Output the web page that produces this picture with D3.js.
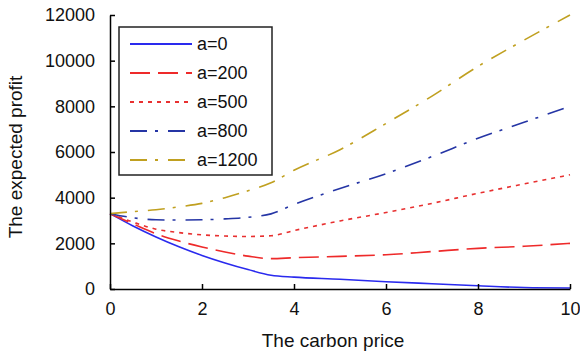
<!DOCTYPE html>
<html>
<head>
<meta charset="utf-8">
<script src="https://cdn.jsdelivr.net/npm/d3@7/dist/d3.min.js"></script>
<style>
  body { margin: 0; background: #fff; }
  svg { font-family: "Liberation Sans", Arial, sans-serif; }
  .axis path, .axis line { stroke: #000; stroke-width: 1.5; }
  .axis text { font-size: 18px; fill: #111; }
</style>
</head>
<body>
<div class="graph"></div>
<script>
// carbon price on x, expected profit for each a on y
var carbonPrice = [0, 0.5, 1, 1.5, 2, 2.5, 3, 3.5, 4, 5, 6, 7, 8, 9, 10];
var profitA0    = [3300, 2760, 2280, 1850, 1470, 1140, 850, 600, 520, 430, 320, 230, 140, 65, 45];
var profitA200  = [3300, 2850, 2420, 2100, 1840, 1620, 1440, 1330, 1370, 1430, 1500, 1640, 1780, 1870, 2000];
var profitA500  = [3300, 2930, 2620, 2470, 2370, 2320, 2300, 2330, 2560, 2980, 3350, 3750, 4190, 4600, 5000];
var profitA800  = [3300, 3120, 3030, 3020, 3030, 3070, 3140, 3290, 3700, 4400, 5050, 5800, 6600, 7300, 8000];
var profitA1200 = [3300, 3390, 3470, 3600, 3750, 4000, 4300, 4650, 5200, 6100, 7250, 8450, 9750, 10900, 12000];

var seriesNames = ['a=0', 'a=200', 'a=500', 'a=800', 'a=1200'];
var xTicks = [0, 2, 4, 6, 8, 10];
var yTicks = [0, 2000, 4000, 6000, 8000, 10000, 12000];

var series = [
  {name: seriesNames[0], values: profitA0,    color: '#2a2aee', dash: null},
  {name: seriesNames[1], values: profitA200,  color: '#ee2a2a', dash: '20,8'},
  {name: seriesNames[2], values: profitA500,  color: '#e83030', dash: '4,5'},
  {name: seriesNames[3], values: profitA800,  color: '#2535a5', dash: '17,8,3,10'},
  {name: seriesNames[4], values: profitA1200, color: '#c0a020', dash: '17,8,3,10'}
];

var margin = {top: 15, right: 10, bottom: 69, left: 110},
    width = 580 - margin.left - margin.right,
    height = 358 - margin.top - margin.bottom;

var x = d3.scaleLinear().domain([0, 10]).range([0, width]);
var y = d3.scaleLinear().domain([0, 12000]).range([height, 0]);

var svg = d3.select(".graph").append("svg")
    .attr("width", 580)
    .attr("height", 358)
  .append("g")
    .attr("transform", "translate(" + margin.left + "," + margin.top + ")");

var line = d3.line()
    .x(function(d) { return x(d[0]); })
    .y(function(d) { return y(d[1]); })
    .curve(d3.curveMonotoneX);

svg.selectAll(".series")
    .data(series)
  .enter().append("path")
    .attr("class", "series")
    .attr("fill", "none")
    .attr("stroke", function(d) { return d.color; })
    .attr("stroke-width", 1.6)
    .attr("stroke-dasharray", function(d) { return d.dash; })
    .attr("d", function(d) {
      return line(carbonPrice.map(function(p, i) { return [p, d.values[i]]; }));
    });

svg.append("g")
    .attr("class", "x axis")
    .attr("transform", "translate(0," + height + ")")
    .call(d3.axisBottom(x).tickValues(xTicks).tickFormat(d3.format("d"))
      .tickSizeInner(-5).tickSizeOuter(0).tickPadding(13));

svg.append("g")
    .attr("class", "y axis")
    .call(d3.axisLeft(y).tickValues(yTicks).tickFormat(d3.format("d"))
      .tickSizeInner(-5).tickSizeOuter(0).tickPadding(15));

// axis titles
svg.append("text")
    .attr("x", x(5) - 7)
    .attr("y", height + 58)
    .attr("text-anchor", "middle")
    .style("font-size", "19px")
    .attr("fill", "#111")
    .text("The carbon price");

svg.append("text")
    .attr("transform", "translate(" + (-88) + "," + (y(6000) + 5) + ") rotate(-90)")
    .attr("text-anchor", "middle")
    .style("font-size", "19px")
    .attr("fill", "#111")
    .text("The expected profit");

// legend
var legend = svg.append("g")
    .attr("transform", "translate(" + (119 - margin.left) + "," + (27 - margin.top) + ")");

legend.append("rect")
    .attr("width", 153)
    .attr("height", 148)
    .attr("fill", "#fff")
    .attr("stroke", "#222")
    .attr("stroke-width", 1.5);

var item = legend.selectAll(".legend-item")
    .data(series)
  .enter().append("g")
    .attr("class", "legend-item")
    .attr("transform", function(d, i) { return "translate(0," + (17 + i * 29) + ")"; });

item.append("line")
    .attr("x1", 11)
    .attr("x2", 73)
    .attr("stroke", function(d) { return d.color; })
    .attr("stroke-width", 1.8)
    .attr("stroke-dasharray", function(d) { return d.dash; });

item.append("text")
    .attr("x", 78)
    .attr("dy", "0.35em")
    .style("font-size", "18px")
    .attr("fill", "#111")
    .text(function(d) { return d.name; });
</script>
</body>
</html>
